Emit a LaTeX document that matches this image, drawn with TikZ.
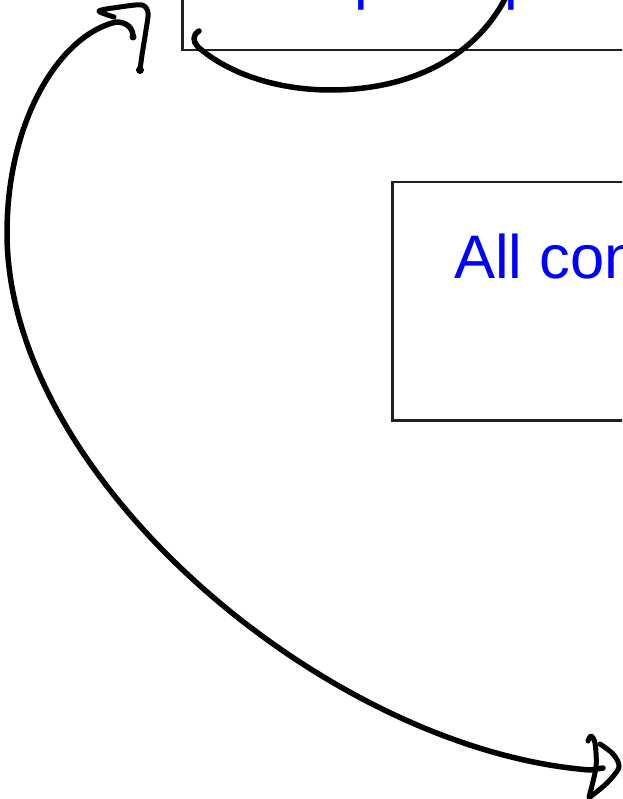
\documentclass[tikz,border=0pt]{standalone}
\usepackage{fontspec}
\setmainfont{Liberation Sans}
\definecolor{boxc}{RGB}{35,31,32}
\definecolor{txtc}{RGB}{0,0,255}
\tikzset{
  framebox/.style={draw=boxc, line width=2.5pt, inner sep=0pt, anchor=north west},
  bigtext/.style={text=txtc, font=\fontsize{61.5pt}{70pt}\selectfont, inner sep=0pt, anchor=base west},
  stroke/.style={draw=black, line width=5.5pt, line cap=round, line join=round},
  headstroke/.style={draw=black, line width=5pt, line cap=round, line join=round},
}
\begin{document}
\begin{tikzpicture}[x=1pt,y=-1pt]
\useasboundingbox (0,0) rectangle (622,799);
\clip (0,0) rectangle (622,799);
% boxes
\node[framebox, minimum width=700pt, minimum height=300pt] (topbox) at (181,-251) {};
\node[framebox, minimum width=500pt, minimum height=238pt] (midbox) at (391,181) {};
% texts
\node[bigtext] (toptext) at (251.4,-2.7) {Loop wrap};
\node[bigtext] (midtext) at (454,278) {All connections};
% named end points
\coordinate (loopstart) at (199,31);
\coordinate (loopend) at (507,-5);
\coordinate (arcstart) at (133,37);
\coordinate (arcend) at (603,768);
% loop arrow on the top box
\draw[stroke] (loopstart) .. controls (192,35) and (193,42) .. (198,47)
  .. controls (230,75) and (280,90) .. (330,90)
  .. controls (420,90) and (480,50) .. (loopend);
% big arc
\draw[stroke] (arcstart) .. controls (133,28) and (127,22) .. (116,22)
  .. controls (60,35) and (7,120) .. (7,233)
  .. controls (7,480) and (330,750) .. (590,770)
  -- (arcend);
\fill (arcstart) circle (3.5pt);
% top arrowhead
\draw[headstroke] plot[smooth, tension=0.5] coordinates {(114,17) (99,11) (120,7) (142,5) (148,13) (146,30) (142,55) (140,70)};
\fill (140,70) circle (4pt);
% bottom arrowhead
\draw[headstroke] plot[smooth, tension=0.5] coordinates {(588,741) (591,736) (595,743) (596,767) (589,797)};
\draw[headstroke] plot[smooth, tension=0.5] coordinates {(600,744) (613,754) (619,767) (607,783) (590,797)};
\end{tikzpicture}
\end{document}
